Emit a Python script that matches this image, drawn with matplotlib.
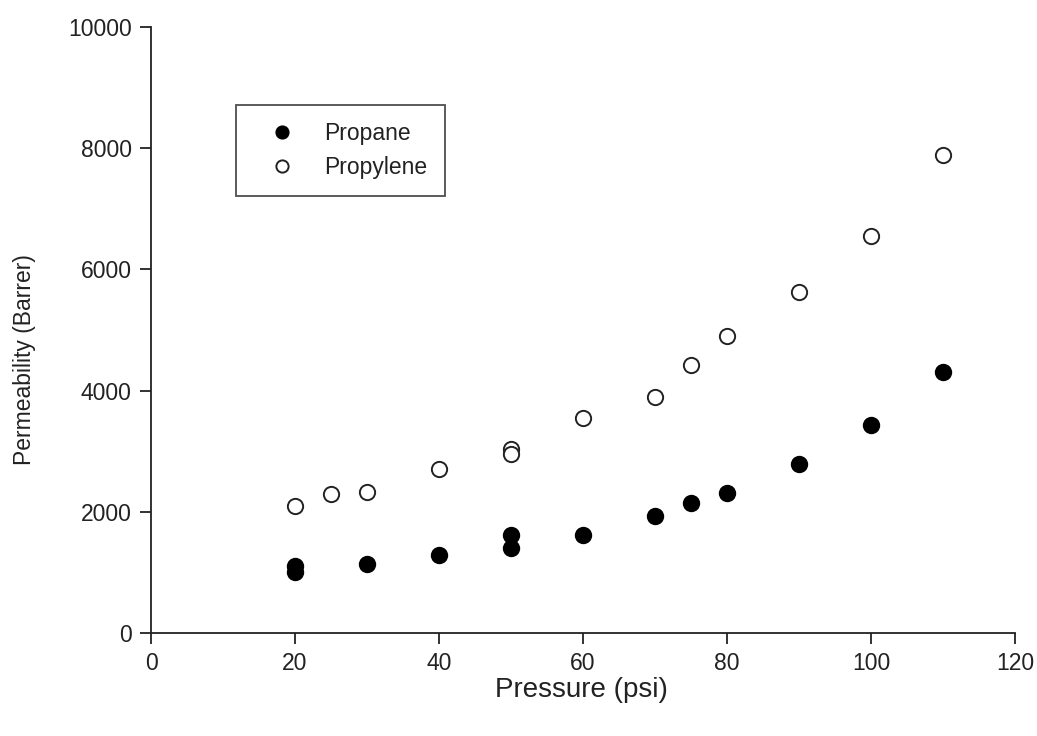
import matplotlib
matplotlib.use("Agg")
import matplotlib.pyplot as plt

plt.rcParams['font.family'] = ['Liberation Sans', 'DejaVu Sans']

propane_x = [20, 20, 30, 40, 50, 50, 60, 70, 75, 80, 90, 100, 110]
propane_y = [1110, 1010, 1140, 1290, 1620, 1405, 1620, 1935, 2150, 2315, 2795, 3440, 4300]
propylene_x = [20, 25, 30, 40, 50, 50, 60, 70, 75, 80, 90, 100, 110]
propylene_y = [2100, 2300, 2330, 2710, 3040, 2960, 3555, 3900, 4415, 4895, 5635, 6545, 7885]

xticks = [0, 20, 40, 60, 80, 100, 120]
yticks = [0, 2000, 4000, 6000, 8000, 10000]

fig = plt.figure(figsize=(10.37, 7.36), dpi=100)
ax = fig.add_axes([151/1037, 1-633/736, (1015-151)/1037, (633-27)/736])

ax.plot(propane_x, propane_y, 'o', color='black', markersize=11.5, label='Propane', linestyle='none')
ax.plot(propylene_x, propylene_y, 'o', markerfacecolor='white', markeredgecolor='#222222',
        markeredgewidth=1.4, markersize=11, label='Propylene', linestyle='none')

ax.set_xlim(0, 120)
ax.set_ylim(0, 10000)
ax.set_xticks(xticks)
ax.set_yticks(yticks)
ax.spines['top'].set_visible(False)
ax.spines['right'].set_visible(False)
ax.spines['left'].set_linewidth(1.3)
ax.spines['bottom'].set_linewidth(1.3)
ax.spines['left'].set_color('#222222')
ax.spines['bottom'].set_color('#222222')
ax.tick_params(direction='out', length=8, width=1.3, color='#222222', labelsize=16.5, pad=6,
               labelcolor='#222222')
ax.set_xlabel('Pressure (psi)', fontsize=20, color='#222222')
ax.set_ylabel('Permeability (Barrer)', fontsize=16.5, color='#222222')
ax.xaxis.set_label_coords(0.498, -(690 - 633) / 606, transform=ax.transAxes)
ax.yaxis.set_label_coords(-(151 - 25) / 864, (633 - 360) / 606, transform=ax.transAxes)
ax.xaxis.label.set_verticalalignment('center')
ax.yaxis.label.set_verticalalignment('center')

leg = ax.legend(loc='upper left', bbox_to_anchor=((236-151)/864, (633-105)/606),
                frameon=True, fancybox=False, edgecolor='#222222', fontsize=16.5,
                borderpad=0.75, handletextpad=0.6, labelspacing=0.46, borderaxespad=0,
                markerscale=0.8, handlelength=2.5)
leg.get_frame().set_linewidth(1.3)
for t in leg.get_texts():
    t.set_color('#222222')

fig.savefig('out.png', dpi=100)
